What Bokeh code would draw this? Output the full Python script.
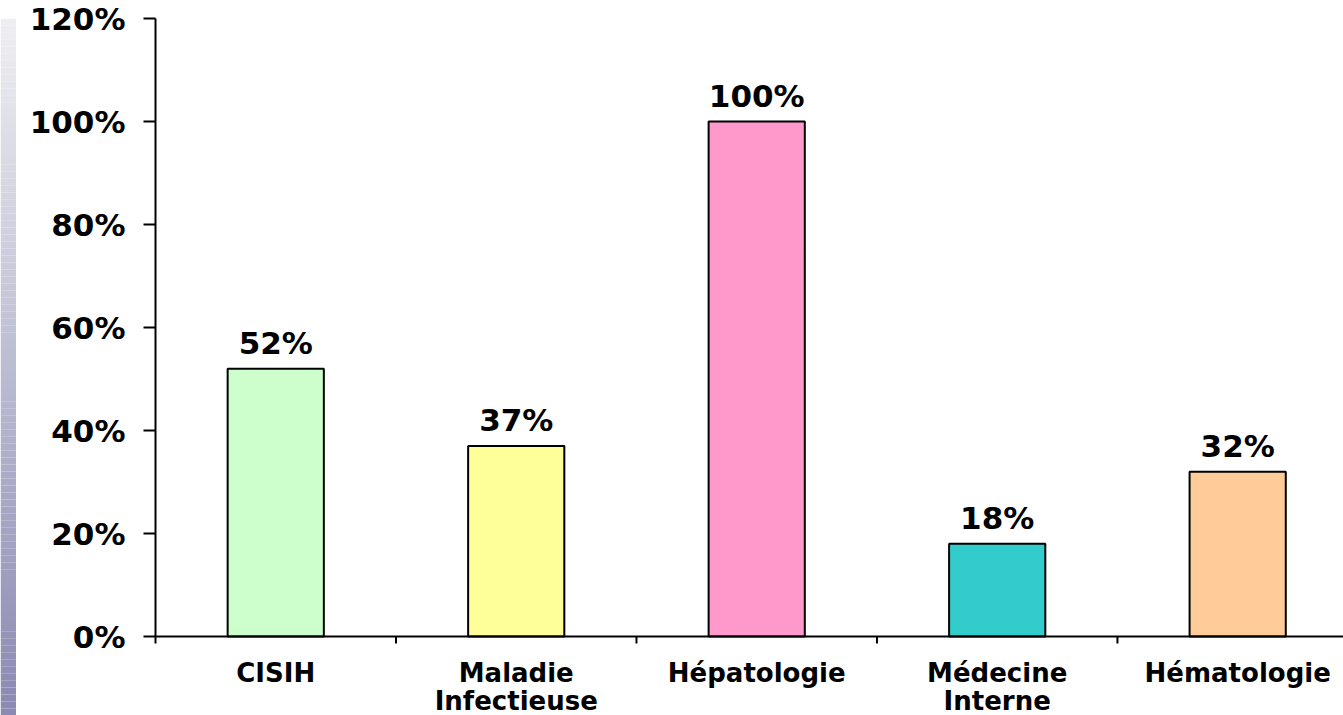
from bokeh.plotting import figure
from bokeh.layouts import row
from bokeh.models import Range1d, FixedTicker
from bokeh.core.properties import value
from bokeh.embed import file_html
from bokeh.resources import INLINE

categories = ["CISIH", "Maladie\nInfectieuse", "Hépatologie", "Médecine\nInterne", "Hématologie"]
values = [0.52, 0.37, 1.00, 0.18, 0.32]
value_labels = ["52%", "37%", "100%", "18%", "32%"]
colors = ["#CCFFCC", "#FFFF99", "#FF99CC", "#33CCCC", "#FFCC99"]
y_ticks = [0, 0.2, 0.4, 0.6, 0.8, 1.0, 1.2]
y_tick_labels = ["0%", "20%", "40%", "60%", "80%", "100%", "120%"]

FONT = "DejaVu Sans"
H = 715
TOP_BORDER = 18
PX_PER_UNIT = 618 / 1.2          # 0% -> 120% spans 618 px
def px(n):                        # pixel distance -> data units
    return n / PX_PER_UNIT

# left decorative gradient strip
strip = figure(width=16, height=H, x_range=Range1d(0, 1), y_range=Range1d(0, 100),
               output_backend="svg", toolbar_location=None, min_border=0)
strip.axis.visible = False
strip.grid.visible = False
strip.outline_line_color = None
top = (238, 238, 242)
bot = (138, 138, 178)
n = 100
tops, bots, cols = [], [], []
for i in range(n):
    t = i / (n - 1)
    c = tuple(int(round(top[k] + (bot[k] - top[k]) * t)) for k in range(3))
    tops.append(100 - i)
    bots.append(99 - i)
    cols.append("#%02x%02x%02x" % c)
strip.quad(left=0, right=1, top=tops, bottom=bots, fill_color=cols, line_color=None)

# main chart
xs = list(range(len(categories)))
frame_h = H - TOP_BORDER
y_bottom = 1.2 - px(frame_h)
p = figure(width=1327, height=H, x_range=Range1d(-0.5, 4.44), y_range=Range1d(y_bottom, 1.2),
           output_backend="svg", toolbar_location=None,
           min_border_left=139, min_border_right=0, min_border_top=TOP_BORDER, min_border_bottom=0)
p.grid.visible = False
p.outline_line_color = None
p.xaxis.visible = False

p.vbar(x=xs, top=values, bottom=0, width=0.4, fill_color=colors, line_color="black",
       line_width=2)

# x axis line and ticks at category boundaries
p.segment(x0=[-0.5], x1=[4.44], y0=[0], y1=[0], line_color="black", line_width=2)
bounds = [i + 0.5 for i in range(len(categories) - 1)]
p.segment(x0=bounds, x1=bounds, y0=[0] * len(bounds), y1=[-px(7)] * len(bounds),
          line_color="black", line_width=2)

# value labels
p.text(x=xs, y=[v + px(26) for v in values], text=value_labels, text_align="center",
       text_baseline="middle", text_font=value(FONT), text_font_style="bold",
       text_font_size="31px", text_color="black")

# category labels (line by line)
l1x, l1t, l2x, l2t = [], [], [], []
for x, c in zip(xs, categories):
    parts = c.split("\n")
    l1x.append(x); l1t.append(parts[0])
    if len(parts) > 1:
        l2x.append(x); l2t.append(parts[1])
p.text(x=l1x, y=[-px(36)] * len(l1x), text=l1t, text_align="center", text_baseline="middle",
       text_font=value(FONT), text_font_style="bold", text_font_size="26px", text_color="black")
p.text(x=l2x, y=[-px(64)] * len(l2x), text=l2t, text_align="center", text_baseline="middle",
       text_font=value(FONT), text_font_style="bold", text_font_size="26px", text_color="black")

# y axis
p.yaxis.bounds = (-px(7), 1.2)
p.yaxis.ticker = FixedTicker(ticks=y_ticks)
p.yaxis.major_label_overrides = {t: l for t, l in zip(y_ticks, y_tick_labels)}
p.yaxis.minor_tick_line_color = None
p.yaxis.major_tick_out = 12
p.yaxis.major_tick_in = 0
p.yaxis.major_tick_line_width = 2
p.yaxis.axis_line_width = 2
p.yaxis.axis_line_color = "black"
p.yaxis.major_label_text_font = FONT
p.yaxis.major_label_text_font_style = "bold"
p.yaxis.major_label_text_font_size = "31px"
p.yaxis.major_label_text_color = "black"
p.yaxis.major_label_standoff = 18

layout = row(strip, p, spacing=0)
open("out.html", "w").write(file_html(layout, INLINE))
